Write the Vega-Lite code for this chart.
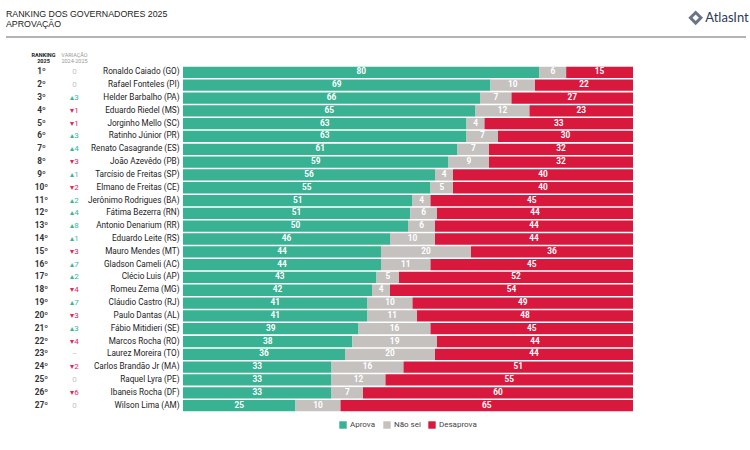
{
  "$schema": "https://vega.github.io/schema/vega-lite/v6.json",
  "padding": 5,
  "background": "white",
  "config": {
    "view": {"stroke": null},
    "font": "Roboto",
    "legend": {"layout": {"bottom": {"anchor": "middle"}}}
  },
  "data": {
    "values": [
      {"rank": "1º", "var": "0", "trend": "flat", "name": "Ronaldo Caiado (GO)", "Aprova": 80, "Não sei": 6, "Desaprova": 15},
      {"rank": "2º", "var": "0", "trend": "flat", "name": "Rafael Fonteles (PI)", "Aprova": 69, "Não sei": 10, "Desaprova": 22},
      {"rank": "3º", "var": "▴3", "trend": "up", "name": "Helder Barbalho (PA)", "Aprova": 66, "Não sei": 7, "Desaprova": 27},
      {"rank": "4º", "var": "▾1", "trend": "down", "name": "Eduardo Riedel (MS)", "Aprova": 65, "Não sei": 12, "Desaprova": 23},
      {"rank": "5º", "var": "▾1", "trend": "down", "name": "Jorginho Mello (SC)", "Aprova": 63, "Não sei": 4, "Desaprova": 33},
      {"rank": "6º", "var": "▴3", "trend": "up", "name": "Ratinho Júnior (PR)", "Aprova": 63, "Não sei": 7, "Desaprova": 30},
      {"rank": "7º", "var": "▴4", "trend": "up", "name": "Renato Casagrande (ES)", "Aprova": 61, "Não sei": 7, "Desaprova": 32},
      {"rank": "8º", "var": "▾3", "trend": "down", "name": "João Azevêdo (PB)", "Aprova": 59, "Não sei": 9, "Desaprova": 32},
      {"rank": "9º", "var": "▴1", "trend": "up", "name": "Tarcísio de Freitas (SP)", "Aprova": 56, "Não sei": 4, "Desaprova": 40},
      {"rank": "10º", "var": "▾2", "trend": "down", "name": "Elmano de Freitas (CE)", "Aprova": 55, "Não sei": 5, "Desaprova": 40},
      {"rank": "11º", "var": "▴2", "trend": "up", "name": "Jerônimo Rodrigues (BA)", "Aprova": 51, "Não sei": 4, "Desaprova": 45},
      {"rank": "12º", "var": "▴4", "trend": "up", "name": "Fátima Bezerra (RN)", "Aprova": 51, "Não sei": 6, "Desaprova": 44},
      {"rank": "13º", "var": "▴8", "trend": "up", "name": "Antonio Denarium (RR)", "Aprova": 50, "Não sei": 6, "Desaprova": 44},
      {"rank": "14º", "var": "▴1", "trend": "up", "name": "Eduardo Leite (RS)", "Aprova": 46, "Não sei": 10, "Desaprova": 44},
      {"rank": "15º", "var": "▾3", "trend": "down", "name": "Mauro Mendes (MT)", "Aprova": 44, "Não sei": 20, "Desaprova": 36},
      {"rank": "16º", "var": "▴7", "trend": "up", "name": "Gladson Cameli (AC)", "Aprova": 44, "Não sei": 11, "Desaprova": 45},
      {"rank": "17º", "var": "▴2", "trend": "up", "name": "Clécio Luis (AP)", "Aprova": 43, "Não sei": 5, "Desaprova": 52},
      {"rank": "18º", "var": "▾4", "trend": "down", "name": "Romeu Zema (MG)", "Aprova": 42, "Não sei": 4, "Desaprova": 54},
      {"rank": "19º", "var": "▴7", "trend": "up", "name": "Cláudio Castro (RJ)", "Aprova": 41, "Não sei": 10, "Desaprova": 49},
      {"rank": "20º", "var": "▾3", "trend": "down", "name": "Paulo Dantas (AL)", "Aprova": 41, "Não sei": 11, "Desaprova": 48},
      {"rank": "21º", "var": "▴3", "trend": "up", "name": "Fábio Mitidieri (SE)", "Aprova": 39, "Não sei": 16, "Desaprova": 45},
      {"rank": "22º", "var": "▾4", "trend": "down", "name": "Marcos Rocha (RO)", "Aprova": 38, "Não sei": 19, "Desaprova": 44},
      {"rank": "23º", "var": "–", "trend": "new", "name": "Laurez Moreira (TO)", "Aprova": 36, "Não sei": 20, "Desaprova": 44},
      {"rank": "24º", "var": "▾2", "trend": "down", "name": "Carlos Brandão Jr (MA)", "Aprova": 33, "Não sei": 16, "Desaprova": 51},
      {"rank": "25º", "var": "0", "trend": "flat", "name": "Raquel Lyra (PE)", "Aprova": 33, "Não sei": 12, "Desaprova": 55},
      {"rank": "26º", "var": "▾6", "trend": "down", "name": "Ibaneis Rocha (DF)", "Aprova": 33, "Não sei": 7, "Desaprova": 60},
      {"rank": "27º", "var": "0", "trend": "flat", "name": "Wilson Lima (AM)", "Aprova": 25, "Não sei": 10, "Desaprova": 65}
    ]
  },
  "spacing": 14,
  "vconcat": [
    {
      "data": {"values": [{}]},
      "width": 740,
      "height": 32,
      "layer": [
        {
          "mark": {"type": "text", "text": ["RANKING DOS GOVERNADORES 2025", "APROVAÇÃO"], "align": "left", "baseline": "top", "font": "Liberation Sans", "fontSize": 8.8, "lineHeight": 10, "color": "#222", "dy": 5},
          "encoding": {
            "x": {"datum": 0, "type": "quantitative", "scale": {"domain": [0, 1]}, "axis": null},
            "y": {"datum": 1, "type": "quantitative", "scale": {"domain": [0, 1]}, "axis": null}
          }
        },
        {
          "mark": {"type": "point", "shape": "diamond", "filled": false, "strokeWidth": 3, "size": 110, "color": "#2e3b57"},
          "encoding": {
            "x": {"datum": 0.932, "type": "quantitative"},
            "y": {"datum": 0.6, "type": "quantitative"}
          }
        },
        {
          "mark": {"type": "text", "text": "AtlasIntel", "align": "left", "baseline": "middle", "font": "Lato", "fontSize": 13, "color": "#2e3b57", "limit": 44, "ellipsis": "\u200b"},
          "encoding": {
            "x": {"datum": 0.945, "type": "quantitative"},
            "y": {"datum": 0.6, "type": "quantitative"}
          }
        },
        {
          "mark": {"type": "rule", "color": "#9a9a9a", "strokeWidth": 1.5},
          "encoding": {
            "y": {"datum": 0, "type": "quantitative"}
          }
        }
      ]
    },
    {
      "spacing": -3,
      "resolve": {"scale": {"color": "independent"}},
      "hconcat": [
        {
          "width": 84,
          "height": 346,
          "encoding": {
            "y": {"field": "name", "type": "nominal", "sort": null, "axis": null, "scale": {"type": "band", "paddingInner": 0.12, "paddingOuter": 0.06}}
          },
          "layer": [
            {
              "mark": {"type": "text", "fontSize": 8.3, "fontWeight": "bold", "color": "#333", "dx": -2},
              "encoding": {
                "x": {
                  "datum": "r", "type": "nominal",
                  "scale": {"type": "band", "domain": ["r", "v"], "paddingInner": 0, "paddingOuter": 0.355, "align": 1},
                  "axis": {
                    "orient": "top", "title": null, "ticks": false, "domain": false, "labelAngle": 0,
                    "labelPadding": 9, "labelFontSize": 5.5, "labelLineHeight": 6,
                    "labelExpr": "datum.value == 'r' ? ['RANKING', '2025'] : ['VARIAÇÃO', '2024-2025']",
                    "labelFontWeight": {"condition": {"test": "datum.value == 'r'", "value": "bold"}, "value": "normal"},
                    "labelColor": {"condition": {"test": "datum.value == 'r'", "value": "#222"}, "value": "#999"}
                  }
                },
                "text": {"field": "rank"}
              }
            },
            {
              "mark": {"type": "text", "fontSize": 8},
              "encoding": {
                "x": {"datum": "v", "type": "nominal"},
                "text": {"field": "var"},
                "color": {"field": "trend", "type": "nominal", "scale": {"domain": ["up", "down", "flat", "new"], "range": ["#3db595", "#e3265a", "#c4c4c4", "#c4c4c4"]}, "legend": null}
              }
            }
          ]
        },
        {
          "width": 450,
          "height": 346,
          "transform": [
            {"fold": ["Aprova", "Não sei", "Desaprova"], "as": ["cat", "value"]},
            {"window": [{"op": "row_number", "as": "idx"}]}
          ],
          "encoding": {
            "y": {"field": "name", "type": "nominal", "sort": null, "scale": {"type": "band", "paddingInner": 0.12, "paddingOuter": 0.06},
                  "axis": {"title": null, "ticks": false, "domain": false, "labelFontSize": 8.2, "labelColor": "#222", "labelPadding": 4}},
            "x": {"field": "value", "type": "quantitative", "stack": "normalize", "axis": null, "scale": {"domain": [0, 1]}},
            "order": {"field": "idx", "type": "quantitative"}
          },
          "layer": [
            {
              "mark": {"type": "bar"},
              "encoding": {
                "color": {
                  "field": "cat", "type": "nominal",
                  "scale": {"domain": ["Aprova", "Não sei", "Desaprova"], "range": ["#38b292", "#c5c1bf", "#d9183e"]},
                  "legend": {"title": null, "orient": "bottom", "direction": "horizontal", "symbolType": "square", "symbolSize": 55, "labelFontSize": 8, "labelColor": "#444", "offset": 9, "columnPadding": 7, "labelOffset": 3, "symbolStrokeWidth": 0}
                }
              }
            },
            {
              "mark": {"type": "text", "color": "white", "fontSize": 8.3, "fontWeight": "bold"},
              "encoding": {
                "x": {"field": "value", "type": "quantitative", "stack": "normalize", "bandPosition": 0.5},
                "text": {"field": "value"}
              }
            }
          ]
        }
      ]
    }
  ]
}
